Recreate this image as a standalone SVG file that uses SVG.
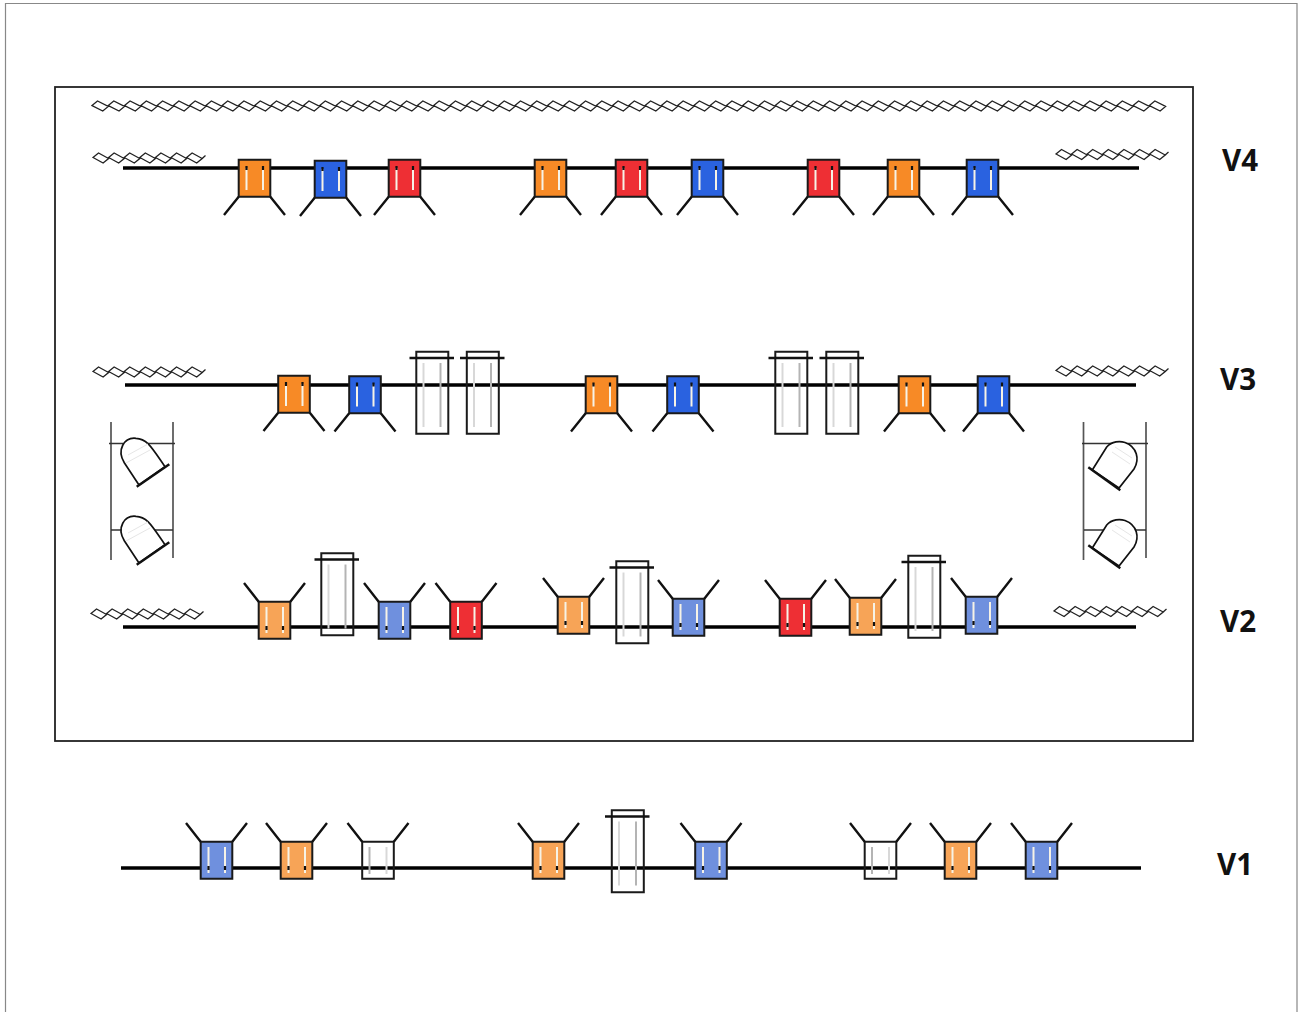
<svg xmlns="http://www.w3.org/2000/svg" width="1298" height="1012" viewBox="0 0 1298 1012">
<style>
.orange{fill:#f78a26}.blue{fill:#2a62e0}.red{fill:#ee2f34}.lorange{fill:#f7a457}.lblue{fill:#6f90de}.white{fill:none}
.k{stroke:#111;fill:none}
.box{stroke:#1a1a1a;stroke-width:2}
.leg{stroke:#111;stroke-width:2.400;fill:none}
.in{stroke:#f6f2e6;stroke-width:2;fill:none}
.dot{stroke:#111;stroke-width:2.200;fill:none}
.g1{stroke:#b4b4b4;stroke-width:2;fill:none}
.g2{stroke:#d8d8d8;stroke-width:2;fill:none}
.wave{stroke:#222;stroke-width:1.300;fill:none}
.wire{stroke:#000;stroke-width:3.500;fill:none}
.rail{stroke:#555;stroke-width:1.700;fill:none}
.rung{stroke:#333;stroke-width:1.300;fill:none}
.dome{stroke:#111;stroke-width:1.700;fill:#fff}
.base{stroke:#111;stroke-width:2.400;fill:none}
.faint{stroke:#e6e6e6;stroke-width:1;fill:none}
text{font-family:"Open Sans","Noto Sans",sans-serif;font-weight:700;font-size:29.500px;fill:#111}
</style>
<defs>
<path id="boxr" d="M0.700,0.700H32.300V37.700H0.700Z"/>
<g id="down"><path class="leg" d="M0.700,37.700L-14,56M32.300,37.700L47,56"/><path class="in" d="M8.500,9V31M25,9V31"/><path class="dot" d="M8.500,7V11M25,7V11"/></g>
<g id="up"><path class="leg" d="M0.700,0.700L-14,-18M32.300,0.700L47,-18"/><path class="in" d="M8.500,6V32M25,6V32"/><path class="dot" d="M8.500,25V29M25,25V29"/></g>
<g id="upw"><path class="leg" d="M0.700,0.700L-14,-18M32.300,0.700L47,-18"/><path class="g1" d="M8,6V33"/><path class="g2" d="M25,6V33"/></g>
<g id="tall"><path class="box" d="M0.800,0.800H32.800V82.800H0.800Z" fill="none"/><path class="k" stroke-width="2.500" d="M-6,7H38.500"/><path class="g2" d="M8,12V76"/><path class="g1" d="M25,12V76"/></g>
<path id="w7" class="wave" d="M0,0l5.500,-4.500l10.100,5.500l-5.500,4.500zm15.600,0l5.500,-4.500l10.100,5.500l-5.500,4.500zm15.600,0l5.500,-4.500l10.100,5.500l-5.500,4.500zm15.600,0l5.500,-4.500l10.100,5.500l-5.500,4.500zm15.600,0l5.500,-4.500l10.100,5.500l-5.500,4.500zm15.600,0l5.500,-4.500l10.100,5.500l-5.500,4.500zm15.600,0l5.500,-4.500l10.100,5.500l-5.500,4.500zM109.200,1l3.300,-3"/>
<path id="w6" class="wave" d="M0,0l5.500,-4.500l10.770,5.500l-5.500,4.500zm16.270,0l5.500,-4.500l10.770,5.500l-5.500,4.500zm16.270,0l5.500,-4.500l10.770,5.500l-5.500,4.500zm16.270,0l5.500,-4.500l10.770,5.500l-5.500,4.500zm16.270,0l5.500,-4.500l10.770,5.500l-5.500,4.500zm16.270,0l5.500,-4.500l10.770,5.500l-5.500,4.500z"/>
<g id="bullet"><path class="dome" d="M139,485L124.300,462.700C116.500,450 124,437 136,438.300C147,438.500 152,448 165,466.700Z"/><path class="faint" d="M128,455L148,444M126,463L150,450"/><path class="base" d="M136.700,486.700L169.300,464.300"/></g>
<g id="bulletr"><path class="dome" d="M1092.300,470L1106.700,447C1112,441 1120,441 1125,442.500C1137,447 1140,459 1134,469L1119,488Z"/><path class="faint" d="M1115,447L1132,458M1112,452L1130,464"/><path class="base" d="M1088.300,467.300L1120.300,490.300"/></g>
</defs>
<rect width="1298" height="1012" fill="#fff"/>
<path d="M5.500,1012V3.500H1297V1012" fill="none" stroke="#888" stroke-width="1.200"/>
<rect id="frame" x="55" y="87" width="1138" height="654" fill="none" stroke="#222" stroke-width="1.800"/>
<g id="connectors">
<path class="wire" d="M123,168H1139"/>
<path class="wire" d="M125,385H1136"/>
<path class="wire" d="M123,627H1136"/>
<path class="wire" d="M121,868H1141"/>
</g>
<g id="waves">
<use href="#w6" x="92" y="105.500"/><use href="#w6" x="189.600" y="105.500"/><use href="#w6" x="287.200" y="105.500"/><use href="#w6" x="384.800" y="105.500"/><use href="#w6" x="482.400" y="105.500"/><use href="#w6" x="580" y="105.500"/><use href="#w6" x="677.600" y="105.500"/><use href="#w6" x="775.200" y="105.500"/><use href="#w6" x="872.800" y="105.500"/><use href="#w6" x="970.400" y="105.500"/><use href="#w6" x="1068" y="105.500"/>
<use href="#w7" x="93" y="157.500"/><use href="#w7" x="1056" y="154"/>
<use href="#w7" x="93" y="371.500"/><use href="#w7" x="1056" y="370.500"/>
<use href="#w7" x="91" y="613.500"/><use href="#w7" x="1054" y="611"/>
</g>
<g id="lamps-left">
<path class="rail" d="M111,422V560M173,422V558"/>
<path class="rung" d="M109,443.500H175M111,530H173"/>
<use href="#bullet"/><use href="#bullet" y="78"/>
</g>
<g id="lamps-right">
<path class="rail" d="M1083.500,422V560M1146,422V558"/>
<path class="rung" d="M1082,443.500H1148M1084,530H1146"/>
<use href="#bulletr"/><use href="#bulletr" y="78"/>
</g>
<g id="v4-1" transform="translate(238,159)"><use href="#boxr" class="box orange"/><use href="#down"/></g>
<g id="v4-2" transform="translate(314,160)"><use href="#boxr" class="box blue"/><use href="#down"/></g>
<g id="v4-3" transform="translate(388,159)"><use href="#boxr" class="box red"/><use href="#down"/></g>
<g id="v4-4" transform="translate(534,159)"><use href="#boxr" class="box orange"/><use href="#down"/></g>
<g id="v4-5" transform="translate(615,159)"><use href="#boxr" class="box red"/><use href="#down"/></g>
<g id="v4-6" transform="translate(691,159)"><use href="#boxr" class="box blue"/><use href="#down"/></g>
<g id="v4-7" transform="translate(807,159)"><use href="#boxr" class="box red"/><use href="#down"/></g>
<g id="v4-8" transform="translate(887,159)"><use href="#boxr" class="box orange"/><use href="#down"/></g>
<g id="v4-9" transform="translate(966,159)"><use href="#boxr" class="box blue"/><use href="#down"/></g>
<g id="v3-1" transform="translate(277.500,375)"><use href="#boxr" class="box orange"/><use href="#down"/></g>
<g id="v3-2" transform="translate(348.500,375.500)"><use href="#boxr" class="box blue"/><use href="#down"/></g>
<g id="v3-3" transform="translate(415.500,351)"><use href="#tall"/></g>
<g id="v3-4" transform="translate(466,351)"><use href="#tall"/></g>
<g id="v3-5" transform="translate(585,375.500)"><use href="#boxr" class="box orange"/><use href="#down"/></g>
<g id="v3-6" transform="translate(666.500,375.500)"><use href="#boxr" class="box blue"/><use href="#down"/></g>
<g id="v3-7" transform="translate(774.500,351)"><use href="#tall"/></g>
<g id="v3-8" transform="translate(825.500,351)"><use href="#tall"/></g>
<g id="v3-9" transform="translate(898,375.500)"><use href="#boxr" class="box orange"/><use href="#down"/></g>
<g id="v3-10" transform="translate(977,375.500)"><use href="#boxr" class="box blue"/><use href="#down"/></g>
<g id="v2-1" transform="translate(258,601)"><use href="#boxr" class="box lorange"/><use href="#up"/></g>
<g id="v2-2" transform="translate(320.500,552.500)"><use href="#tall"/></g>
<g id="v2-3" transform="translate(378,601)"><use href="#boxr" class="box lblue"/><use href="#up"/></g>
<g id="v2-4" transform="translate(449.500,601)"><use href="#boxr" class="box red"/><use href="#up"/></g>
<g id="v2-5" transform="translate(557,596)"><use href="#boxr" class="box lorange"/><use href="#up"/></g>
<g id="v2-6" transform="translate(615.500,560.500)"><use href="#tall"/></g>
<g id="v2-7" transform="translate(672,598)"><use href="#boxr" class="box lblue"/><use href="#up"/></g>
<g id="v2-8" transform="translate(779,598)"><use href="#boxr" class="box red"/><use href="#up"/></g>
<g id="v2-9" transform="translate(849,597)"><use href="#boxr" class="box lorange"/><use href="#up"/></g>
<g id="v2-10" transform="translate(907.500,555)"><use href="#tall"/></g>
<g id="v2-11" transform="translate(965,596)"><use href="#boxr" class="box lblue"/><use href="#up"/></g>
<g id="v1-1" transform="translate(200,841)"><use href="#boxr" class="box lblue"/><use href="#up"/></g>
<g id="v1-2" transform="translate(280,841)"><use href="#boxr" class="box lorange"/><use href="#up"/></g>
<g id="v1-3" transform="translate(361.500,841)"><use href="#boxr" class="box white"/><use href="#upw"/></g>
<g id="v1-4" transform="translate(532,841)"><use href="#boxr" class="box lorange"/><use href="#up"/></g>
<g id="v1-5" transform="translate(611,809.500)"><use href="#tall"/></g>
<g id="v1-6" transform="translate(694.500,841)"><use href="#boxr" class="box lblue"/><use href="#up"/></g>
<g id="v1-7" transform="translate(864,841)"><use href="#boxr" class="box white"/><use href="#upw"/></g>
<g id="v1-8" transform="translate(944,841)"><use href="#boxr" class="box lorange"/><use href="#up"/></g>
<g id="v1-9" transform="translate(1025,841)"><use href="#boxr" class="box lblue"/><use href="#up"/></g>
<text id="l4" x="1222" y="170.500">V4</text>
<text id="l3" x="1220" y="389.500">V3</text>
<text id="l2" x="1220" y="631.500">V2</text>
<text id="l1" x="1217" y="874.500">V1</text>
</svg>
